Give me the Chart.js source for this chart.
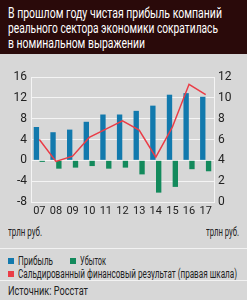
<!DOCTYPE html>
<html>
<head>
<meta charset="utf-8">
<script src="https://cdn.jsdelivr.net/npm/chart.js@4.4.0/dist/chart.umd.min.js"></script>
<style>
body{margin:0;width:247px;height:300px;background:#d7d7d7;position:relative;overflow:hidden;font-family:Roboto,sans-serif;color:#222;}
#title{position:absolute;left:0;top:0;width:247px;height:54px;background:#2a0a0a;}
.fit{position:absolute;white-space:nowrap;transform-origin:0 0;}
.tl{color:#fff;font-size:14px;}
#wrap{position:absolute;left:0;top:60px;width:247px;height:160px;}
.sm{font-size:12px;}
.sep{position:absolute;left:0;width:247px;height:1px;background:#f2f2f2;}
.sq{position:absolute;width:6px;height:6px;}
</style>
</head>
<body>
<div id="title"></div>
<div class="fit tl" style="left:8px;top:5px" data-w="214">В прошлом году чистая прибыль компаний</div>
<div class="fit tl" style="left:8px;top:20px" data-w="210">реального сектора экономики сократилась</div>
<div class="fit tl" style="left:8px;top:35px" data-w="137">в номинальном выражении</div>
<div id="wrap"><canvas id="chart"></canvas></div>
<div class="fit sm" style="left:8px;top:225px" data-w="34">трлн руб.</div>
<div class="fit sm" style="left:206px;top:225px" data-w="33">трлн руб.</div>
<div class="sep" style="top:248px"></div>
<div class="sq" style="left:8px;top:258px;background:#1279ad"></div>
<div class="fit sm" style="left:18px;top:254px" data-w="35">Прибыль</div>
<div class="sq" style="left:70px;top:258px;background:#138a5c"></div>
<div class="fit sm" style="left:80px;top:254px" data-w="26">Убыток</div>
<div class="sq" style="left:8px;top:271px;background:#ea3d47"></div>
<div class="fit sm" style="left:18px;top:267px" data-w="219">Сальдированный финансовый результат (правая шкала)</div>
<div class="sep" style="top:280px"></div>
<div class="fit sm" style="left:8px;top:284px" data-w="80">Источник: Росстат</div>
<script>
var years = ['07','08','09','10','11','12','13','14','15','16','17'];
var profit = [6.4, 5.4, 5.9, 7.4, 8.8, 8.8, 9.5, 10.5, 12.6, 12.9, 12.2];
var loss = [-0.3, -1.6, -1.4, -1.1, -1.6, -1.4, -2.7, -6.2, -5.1, -1.7, -2.1];
var balance = [6.0, 3.9, 4.4, 6.2, 7.0, 7.8, 6.9, 4.3, 7.2, 11.3, 10.3];
var leftTicks = [-8, -4, 0, 4, 8, 12, 16];
var rightTicks = [0, 2, 4, 6, 8, 10, 12];

// squeeze text to the width it has in the picture (original font is condensed)
document.querySelectorAll('.fit').forEach(function(el){
    var w = el.getBoundingClientRect().width;
    el.style.transform = 'scaleX(' + (el.dataset.w / w) + ')';
});

var font = {family: 'Roboto, sans-serif', size: 12};

new Chart(document.getElementById('chart'), {
    type: 'bar',
    data: {
        labels: years,
        datasets: [{
            label: 'Сальдированный финансовый результат',
            type: 'line',
            data: balance,
            yAxisID: 'y1',
            borderColor: '#ea3d47',
            borderWidth: 1.5,
            pointRadius: 0,
            tension: 0,
            order: 0
        }, {
            label: 'Прибыль',
            data: profit,
            yAxisID: 'y',
            backgroundColor: '#1279ad',
            categoryPercentage: 0.7,
            barPercentage: 0.92,
            order: 1
        }, {
            label: 'Убыток',
            data: loss,
            yAxisID: 'y',
            backgroundColor: '#138a5c',
            categoryPercentage: 0.7,
            barPercentage: 0.92,
            order: 1
        }]
    },
    options: {
        responsive: true,
        maintainAspectRatio: false,
        animation: false,
        layout: {padding: {top: 17, left: 0, right: 0, bottom: 0}},
        plugins: {legend: {display: false}, tooltip: {enabled: false}},
        scales: {
            x: {
                grid: {display: false, drawTicks: false},
                border: {display: false},
                ticks: {color: '#222', font: {family: 'Roboto, sans-serif', size: 11}, padding: 3, maxRotation: 0, autoSkip: false},
                afterFit: function(s){ s.height = 18; }
            },
            y: {
                position: 'left',
                min: -8, max: 16,
                afterBuildTicks: function(s){ s.ticks = leftTicks.map(function(v){ return {value: v}; }); },
                grid: {color: '#f4f4f4', lineWidth: 1, drawTicks: false},
                border: {color: '#f4f4f4'},
                ticks: {color: '#222', font: font, padding: 4},
                afterFit: function(s){ s.width = 31; }
            },
            y1: {
                position: 'right',
                min: 0, max: 12,
                afterBuildTicks: function(s){ s.ticks = rightTicks.map(function(v){ return {value: v}; }); },
                grid: {display: false, drawTicks: false},
                border: {color: '#f4f4f4'},
                ticks: {color: '#222', font: font, padding: 4},
                afterFit: function(s){ s.width = 33; }
            }
        }
    }
});
</script>
</body>
</html>
